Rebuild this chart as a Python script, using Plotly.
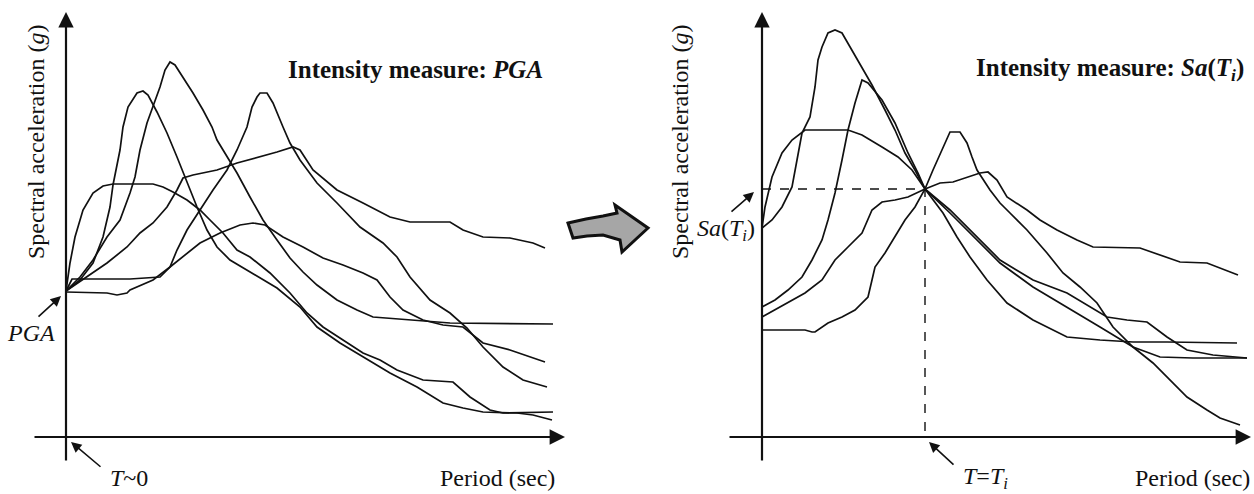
import plotly.graph_objects as go

W, H = 1254, 494

# ---------------- Left panel: spectra scaled to PGA (Period in s, Sa in g) ----------------
L1_T = [0, 0.04, 0.09, 0.17, 0.27, 0.37, 0.47, 0.87, 0.97, 1.07, 1.21, 1.34, 1.44, 1.57, 1.71, 1.84,
        2.04, 2.24, 2.41, 2.57, 2.77, 2.97, 3.14, 3.31, 3.57, 3.87, 4.04, 4.24, 4.37, 4.87]
L1_SA = [1.46, 1.74, 2.00, 2.27, 2.44, 2.51, 2.53, 2.53, 2.50, 2.45, 2.37, 2.27, 2.17, 2.04, 1.87, 1.80,
         1.64, 1.44, 1.24, 1.10, 0.97, 0.84, 0.77, 0.67, 0.57, 0.55, 0.40, 0.27, 0.24, 0.25]

L2_T = [0, 0.14, 0.27, 0.37, 0.44, 0.47, 0.54, 0.57, 0.62, 0.71, 0.77, 0.82, 0.91, 1.01, 1.11, 1.21,
        1.31, 1.41, 1.51, 1.64, 1.84, 2.11, 2.34, 2.51, 2.74, 2.97, 3.24, 3.51, 3.77, 3.97, 4.17, 4.51,
        4.67, 4.86]
L2_SA = [1.46, 1.57, 1.74, 2.00, 2.30, 2.52, 2.87, 3.10, 3.30, 3.44, 3.46, 3.42, 3.25, 3.04, 2.80, 2.54,
         2.30, 2.07, 1.90, 1.77, 1.65, 1.49, 1.30, 1.10, 0.94, 0.80, 0.64, 0.50, 0.34, 0.29, 0.25, 0.24,
         0.22, 0.17]

L3_T = [0, 0.14, 0.27, 0.41, 0.54, 0.64, 0.69, 0.74, 0.81, 0.87, 0.94, 0.99, 1.04, 1.09, 1.17, 1.27,
        1.37, 1.46, 1.51, 1.61, 1.71, 1.84, 1.97, 2.11, 2.24, 2.37, 2.51, 2.71, 2.91, 3.07, 3.44, 3.84,
        4.87]
L3_SA = [1.46, 1.60, 1.77, 2.00, 2.17, 2.44, 2.60, 2.87, 3.14, 3.30, 3.50, 3.67, 3.75, 3.72, 3.60, 3.44,
         3.27, 3.10, 2.97, 2.80, 2.64, 2.40, 2.17, 1.97, 1.79, 1.65, 1.52, 1.37, 1.27, 1.20, 1.17, 1.14,
         1.13]

L4_T = [0, 0.06, 0.64, 0.84, 0.94, 1.04, 1.11, 1.21, 1.34, 1.47, 1.61, 1.71, 1.81, 1.86, 1.91, 1.94,
        2.01, 2.07, 2.17, 2.24, 2.34, 2.51, 2.71, 2.94, 3.17, 3.31, 3.44, 3.64, 3.84, 4.01, 4.17, 4.37,
        4.57, 4.81]
L4_SA = [1.46, 1.58, 1.58, 1.59, 1.60, 1.70, 1.87, 2.07, 2.27, 2.47, 2.67, 2.87, 3.10, 3.30, 3.40, 3.44,
         3.44, 3.34, 3.10, 2.94, 2.77, 2.54, 2.34, 2.10, 1.94, 1.80, 1.60, 1.37, 1.24, 1.09, 0.90, 0.70,
         0.57, 0.50]

L5_T = [0, 0.21, 0.41, 0.61, 0.74, 0.87, 1.01, 1.11, 1.17, 1.27, 1.51, 1.71, 1.94, 2.11, 2.27, 2.34,
        2.47, 2.71, 2.97, 3.24, 3.44, 3.84, 3.97, 4.17, 4.44, 4.67, 4.79]
L5_SA = [1.46, 1.60, 1.74, 1.90, 2.04, 2.14, 2.30, 2.47, 2.59, 2.62, 2.67, 2.74, 2.80, 2.85, 2.90, 2.87,
         2.67, 2.47, 2.34, 2.20, 2.15, 2.15, 2.07, 2.00, 1.99, 1.94, 1.89]

L6_T = [0, 0.41, 0.51, 0.61, 0.64, 0.87, 1.04, 1.21, 1.34, 1.54, 1.74, 1.87, 1.99, 2.17, 2.37, 2.57,
        2.77, 2.97, 3.11, 3.24, 3.37, 3.57, 3.77, 3.97, 4.17, 4.44, 4.79]
L6_SA = [1.45, 1.44, 1.42, 1.44, 1.47, 1.57, 1.70, 1.84, 1.94, 2.04, 2.12, 2.14, 2.12, 2.00, 1.90, 1.79,
         1.72, 1.64, 1.57, 1.40, 1.27, 1.17, 1.12, 1.10, 0.94, 0.87, 0.75]

# ---------------- Right panel: spectra scaled to Sa(Ti) ----------------
TI = 1.63
SA_TI = 2.48

R1_T = [0, 0.03, 0.10, 0.20, 0.30, 0.40, 0.43, 0.86, 1.00, 1.20, 1.36, 1.50, 1.63, 1.88, 2.15, 2.38,
        2.71, 3.05, 3.45, 3.65, 3.85, 4.05, 4.25, 4.51, 4.85]
R1_SA = [2.09, 2.30, 2.60, 2.84, 2.97, 3.04, 3.07, 3.07, 3.02, 2.90, 2.80, 2.67, 2.48, 2.27, 2.00, 1.77,
         1.57, 1.44, 1.20, 1.17, 1.15, 1.00, 0.87, 0.82, 0.79]

R2_T = [0, 0.10, 0.20, 0.30, 0.35, 0.40, 0.48, 0.53, 0.56, 0.60, 0.66, 0.73, 0.80, 0.90, 1.00, 1.10,
        1.23, 1.33, 1.43, 1.53, 1.63, 1.81, 1.95, 2.08, 2.25, 2.45, 2.71, 3.05, 3.38, 3.71, 4.05, 4.75]
R2_SA = [2.09, 2.17, 2.30, 2.50, 2.77, 3.04, 3.20, 3.50, 3.77, 3.90, 4.04, 4.07, 4.04, 3.87, 3.70, 3.52,
         3.27, 3.07, 2.84, 2.67, 2.48, 2.24, 2.00, 1.80, 1.57, 1.34, 1.17, 1.00, 0.97, 0.95, 0.95, 0.94]

R3_T = [0, 0.43, 0.50, 0.53, 0.66, 0.80, 0.93, 1.06, 1.10, 1.13, 1.23, 1.33, 1.43, 1.53, 1.63, 1.71,
        1.81, 1.88, 1.98, 2.05, 2.10, 2.15, 2.28, 2.38, 2.48, 2.65, 2.85, 3.01, 3.18, 3.35, 3.51, 3.71,
        3.91, 4.11, 4.25, 4.45, 4.58, 4.78]
R3_SA = [1.07, 1.07, 1.05, 1.05, 1.14, 1.20, 1.27, 1.40, 1.57, 1.70, 1.84, 2.00, 2.17, 2.30, 2.48, 2.67,
         2.90, 3.05, 3.05, 2.94, 2.80, 2.67, 2.47, 2.34, 2.24, 2.07, 1.84, 1.64, 1.50, 1.34, 1.10, 0.90,
         0.74, 0.54, 0.40, 0.27, 0.19, 0.12]

R4_T = [0, 0.13, 0.26, 0.40, 0.50, 0.60, 0.66, 0.73, 0.80, 0.86, 0.93, 1.00, 1.06, 1.20, 1.33, 1.46,
        1.56, 1.63, 1.88, 2.15, 2.38, 2.71, 3.05, 3.38, 3.71, 3.98, 4.31, 4.85]
R4_SA = [1.30, 1.37, 1.47, 1.60, 1.77, 1.97, 2.17, 2.44, 2.77, 3.07, 3.34, 3.57, 3.54, 3.37, 3.14, 2.84,
         2.64, 2.48, 2.24, 1.97, 1.74, 1.50, 1.30, 1.10, 0.90, 0.80, 0.79, 0.79]

R5_T = [0, 0.13, 0.26, 0.43, 0.60, 0.73, 0.86, 1.00, 1.10, 1.20, 1.33, 1.46, 1.63, 1.78, 1.91, 2.05,
        2.18, 2.26, 2.35, 2.45, 2.65, 2.78, 2.95, 3.15, 3.31, 3.78, 3.98, 4.18, 4.45, 4.76]
R5_SA = [1.20, 1.27, 1.34, 1.44, 1.57, 1.77, 1.90, 2.04, 2.27, 2.35, 2.37, 2.40, 2.48, 2.54, 2.55, 2.60,
         2.64, 2.65, 2.57, 2.40, 2.27, 2.17, 2.07, 1.97, 1.90, 1.89, 1.82, 1.75, 1.74, 1.62]

LEFT = [(L1_T, L1_SA), (L2_T, L2_SA), (L3_T, L3_SA), (L4_T, L4_SA), (L5_T, L5_SA), (L6_T, L6_SA)]
RIGHT = [(R1_T, R1_SA), (R2_T, R2_SA), (R3_T, R3_SA), (R4_T, R4_SA), (R5_T, R5_SA)]

INK = "#111111"
FONT = "Liberation Serif, Times New Roman, DejaVu Serif, serif"

fig = go.Figure()
for T, S in LEFT:
    fig.add_trace(go.Scatter(x=T, y=S, mode="lines", line=dict(color=INK, width=1.7),
                             xaxis="x", yaxis="y", hoverinfo="skip", showlegend=False))
for T, S in RIGHT:
    fig.add_trace(go.Scatter(x=T, y=S, mode="lines", line=dict(color=INK, width=1.7),
                             xaxis="x2", yaxis="y2", hoverinfo="skip", showlegend=False))
# dashed guide through Sa(Ti)
fig.add_trace(go.Scatter(x=[0, TI, TI], y=[SA_TI, SA_TI, 0], mode="lines",
                         line=dict(color=INK, width=1.4, dash="dash"),
                         xaxis="x2", yaxis="y2", hoverinfo="skip", showlegend=False))


def px(x, y):
    return x / W, 1 - y / H


ann = []

# axis arrows (data coordinates)
for xr, yr, xmin, xmax in [("x", "y", -0.33, 4.99), ("x2", "y2", -0.34, 4.89)]:
    ann.append(dict(x=0, y=4.25, ax=0, ay=-0.25, xref=xr, yref=yr, axref=xr, ayref=yr,
                    text="", showarrow=True, arrowhead=2, arrowsize=1.4, arrowwidth=2.2,
                    arrowcolor=INK))
    ann.append(dict(x=xmax, y=0, ax=xmin, ay=0, xref=xr, yref=yr, axref=xr, ayref=yr,
                    text="", showarrow=True, arrowhead=2, arrowsize=1.4, arrowwidth=2.2,
                    arrowcolor=INK))


def text(x, y, s, size=24, xanchor="center", angle=0):
    X, Y = px(x, y)
    ann.append(dict(x=X, y=Y, xref="paper", yref="paper", text=s, showarrow=False,
                    xanchor=xanchor, yanchor="middle", textangle=angle,
                    font=dict(family=FONT, size=size, color=INK)))


def arrow(hx, hy, tx, ty):
    X, Y = px(hx, hy)
    ann.append(dict(x=X, y=Y, xref="paper", yref="paper", ax=tx - hx, ay=ty - hy,
                    axref="pixel", ayref="pixel", text="", showarrow=True, arrowhead=2,
                    arrowsize=1.3, arrowwidth=1.6, arrowcolor=INK))


text(36, 142, "Spectral acceleration (<i>g</i>)", 24, angle=-90)
text(680, 142, "Spectral acceleration (<i>g</i>)", 24, angle=-90)
text(545, 69, "<b>Intensity measure: <i>PGA</i></b>", 25, xanchor="right")
text(1246, 69, "<b>Intensity measure: <i>Sa</i>(<i>T<sub>i</sub></i>)</b>", 25, xanchor="right")
text(31, 333, "<i>PGA</i>", 24)
text(108, 478, "<i>T</i>~0", 24, xanchor="left")
text(557, 478, "Period (sec)", 24, xanchor="right")
text(1252, 478, "Period (sec)", 24, xanchor="right")
text(726, 230, "<i>Sa</i>(<i>T<sub>i</sub></i>)", 24)
text(961, 478, "<i>T</i>=<i>T<sub>i</sub></i>", 24, xanchor="left")

arrow(61, 296, 37, 318)
arrow(71, 442, 102, 468)
arrow(754, 192, 730, 213)
arrow(929, 442, 955, 466)

# grey curved "next step" arrow between panels (decoration)
G = [(568, 223), (586, 219), (603, 216), (617, 213), (615, 205), (648, 228), (622, 252),
     (620, 240), (603, 235), (587, 236), (573, 238)]
path = "M " + " L ".join("%.5f,%.5f" % px(a, b) for a, b in G) + " Z"
shapes = [dict(type="path", path=path, xref="paper", yref="paper",
               fillcolor="#a6a6a6", line=dict(color=INK, width=3))]

ax_common = dict(visible=False, showgrid=False, zeroline=False, fixedrange=True)
fig.update_layout(
    width=W, height=H, margin=dict(l=0, r=0, t=0, b=0),
    paper_bgcolor="white", plot_bgcolor="white", showlegend=False,
    xaxis=dict(domain=[0, 600 / W], range=[-0.66, 5.34], **ax_common),
    yaxis=dict(domain=[0, 1], range=[-0.57, 4.37], **ax_common),
    xaxis2=dict(domain=[690 / W, 1], range=[-0.72, 4.92], anchor="y2", **ax_common),
    yaxis2=dict(domain=[0, 1], range=[-0.57, 4.37], anchor="x2", **ax_common),
    annotations=ann, shapes=shapes,
)

fig.write_html("out.html", config={"displayModeBar": False},
               post_script="document.body.style.margin='0px';document.body.style.overflow='hidden';")
